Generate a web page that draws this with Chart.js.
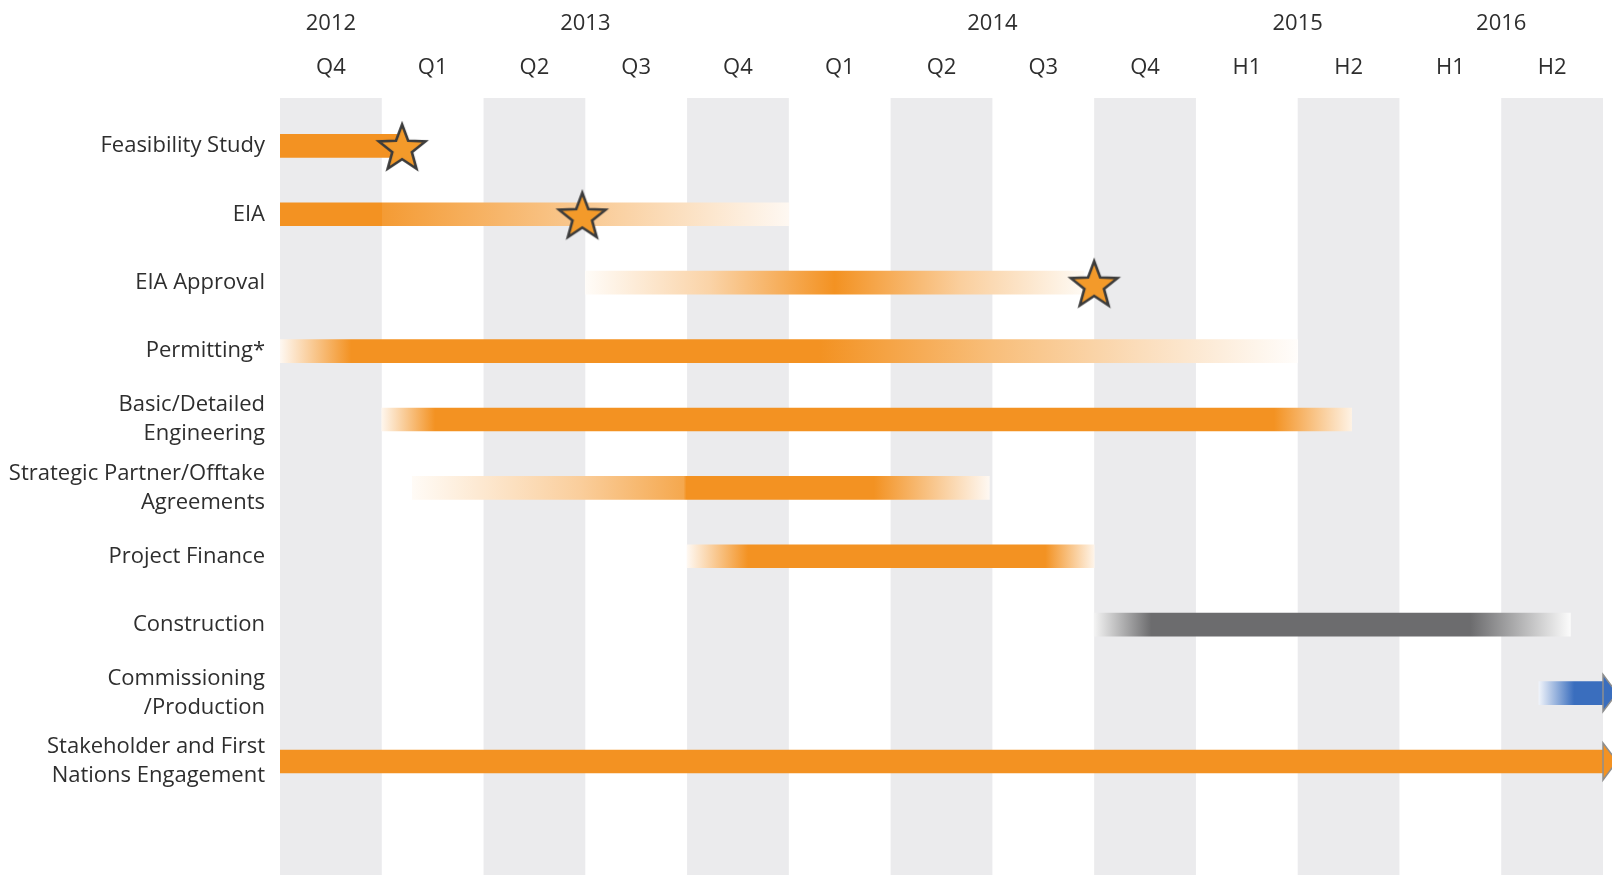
<!DOCTYPE html>
<html>
<head>
<meta charset="utf-8">
<script src="https://cdn.jsdelivr.net/npm/chart.js@4.4.1/dist/chart.umd.min.js"></script>
<style>
  html, body { margin: 0; padding: 0; background: #fff; }
  canvas { display: block; }
</style>
</head>
<body>
<canvas id="myChart" width="1612" height="875"></canvas>
<script>
// rows of the schedule (top to bottom)
const rowLabels = [
  'Feasibility Study',
  'EIA',
  'EIA Approval',
  'Permitting*',
  ['Basic/Detailed', 'Engineering'],
  ['Strategic Partner/Offtake', 'Agreements'],
  'Project Finance',
  'Construction',
  ['Commissioning', '/Production'],
  ['Stakeholder and First', 'Nations Engagement']
];

// bar start / end, in periods from the start of 2012 Q4
const barStart = [0, 0, 3, 0, 1, 1.3, 4, 8, 12.37, 0];
const barEnd   = [1.15, 5, 7.9, 10, 10.53, 6.97, 8, 12.68, 13, 13];

// milestones (stars)
const milestoneRow = [0, 1, 2];
const milestoneAt  = [1.2, 2.97, 8.0];

// top axis labels
const periodLabels = ['Q4', 'Q1', 'Q2', 'Q3', 'Q4', 'Q1', 'Q2', 'Q3', 'Q4', 'H1', 'H2', 'H1', 'H2'];
const yearLabels = ['2012', '2013', '2014', '2015', '2016'];
const yearAt = [0.5, 3, 7, 10, 12];

// styling
const ORANGE = [243, 146, 34];
const GRAY = [108, 108, 110];
const BLUE = [58, 110, 190];
const rowColors = [ORANGE, ORANGE, ORANGE, ORANGE, ORANGE, ORANGE, ORANGE, GRAY, BLUE, ORANGE];
// gradient stops: [offset along bar, colour strength (0 = white, 1 = full)]
const fades = [
  [[0, 1], [1, 1]],
  [[0, 1], [0.2, 1], [0.2, 0.92], [1, 0.06]],
  [[0, 0.03], [0.25, 0.4], [0.5, 1], [0.75, 0.45], [1, 0.05]],
  [[0, 0.06], [0.07, 1], [0.53, 1], [0.7, 0.6], [0.85, 0.3], [1, 0.02]],
  [[0, 0.08], [0.055, 1], [0.92, 1], [1, 0.12]],
  [[0, 0.04], [0.29, 0.45], [0.47, 0.8], [0.475, 1], [0.8, 1], [1, 0.06]],
  [[0, 0.06], [0.15, 1], [0.88, 1], [1, 0.1]],
  [[0, 0.08], [0.12, 1], [0.79, 1], [1, 0.03]],
  [[0, 0.08], [0.55, 1], [1, 1]],
  [[0, 1], [1, 1]]
];
const arrowRows = [8, 9];

function mix(rgb, t) {
  const c = rgb.map(v => Math.round(255 + (v - 255) * t));
  return 'rgb(' + c.join(',') + ')';
}

// star marker image
const starImg = document.createElement('canvas');
starImg.width = 60;
starImg.height = 62;
(function () {
  const s = starImg.getContext('2d');
  const cx = 30, cy = 34, R = 24.5, r = R * 0.42;
  s.beginPath();
  for (let k = 0; k < 10; k++) {
    const rad = k % 2 === 0 ? R : r;
    const a = -Math.PI / 2 + k * Math.PI / 5;
    s.lineTo(cx + rad * Math.cos(a), cy + rad * Math.sin(a));
  }
  s.closePath();
  s.fillStyle = '#f39a2a';
  s.fill();
  s.lineJoin = 'miter';
  s.lineWidth = 2.6;
  s.strokeStyle = '#3b3b3b';
  s.stroke();
})();

const stripes = {
  id: 'stripes',
  beforeDatasetsDraw(chart) {
    const { ctx, chartArea, scales } = chart;
    ctx.save();
    ctx.fillStyle = '#ebebed';
    for (let c = 0; c < periodLabels.length; c += 2) {
      const x0 = scales.x.getPixelForValue(c);
      const x1 = scales.x.getPixelForValue(c + 1);
      ctx.fillRect(x0, chartArea.top, x1 - x0, chartArea.bottom - chartArea.top);
    }
    ctx.restore();
  }
};

const arrows = {
  id: 'arrows',
  afterDatasetsDraw(chart) {
    const ctx = chart.ctx;
    const meta = chart.getDatasetMeta(1);
    ctx.save();
    arrowRows.forEach(i => {
      const el = meta.data[i];
      ctx.beginPath();
      ctx.moveTo(el.x, el.y - 18.5);
      ctx.lineTo(el.x + 14, el.y);
      ctx.lineTo(el.x, el.y + 18.5);
      ctx.closePath();
      ctx.fillStyle = mix(rowColors[i], 1);
      ctx.fill();
      ctx.lineWidth = 1.5;
      ctx.strokeStyle = '#8e8e8e';
      ctx.stroke();
    });
    ctx.restore();
  }
};

function noPad(s) {
  s.paddingLeft = 0;
  s.paddingRight = 0;
  s.paddingTop = 0;
  s.paddingBottom = 0;
}

Chart.defaults.font.family = '"Open Sans"';
Chart.defaults.color = '#2e2e2e';

const ctx = document.getElementById('myChart').getContext('2d');

new Chart(ctx, {
  data: {
    datasets: [
      {
        type: 'scatter',
        order: 0,
        data: milestoneRow.map((r, i) => ({ x: milestoneAt[i], y: r })),
        pointStyle: starImg,
        pointRadius: 25,
        clip: false
      },
      {
        type: 'bar',
        order: 1,
        indexAxis: 'y',
        data: rowLabels.map((_, i) => ({ y: i, x: [barStart[i], barEnd[i]] })),
        barThickness: 23,
        borderWidth: 0,
        backgroundColor: (c) => {
          const chart = c.chart;
          if (!chart.chartArea || c.dataIndex === undefined) return mix(ORANGE, 1);
          const i = c.dataIndex;
          const x = chart.scales.x;
          const g = chart.ctx.createLinearGradient(x.getPixelForValue(barStart[i]), 0, x.getPixelForValue(barEnd[i]), 0);
          fades[i].forEach(([o, t]) => g.addColorStop(o, mix(rowColors[i], t)));
          return g;
        }
      }
    ]
  },
  options: {
    responsive: false,
    animation: false,
    devicePixelRatio: 1,
    layout: { autoPadding: false, padding: { right: 9 } },
    plugins: { legend: { display: false }, tooltip: { enabled: false } },
    scales: {
      x: {
        type: 'linear',
        position: 'top',
        min: 0,
        max: 13,
        offset: false,
        weight: 0,
        grid: { display: false, drawTicks: false },
        border: { display: false },
        afterBuildTicks: (s) => { s.ticks = periodLabels.map((_, i) => ({ value: i + 0.5 })); },
        afterFit: (s) => { s.height = 53; noPad(s); },
        ticks: {
          autoSkip: false,
          maxRotation: 0,
          padding: 17,
          font: { size: 22, lineHeight: 1.2 },
          callback: (v, i) => periodLabels[i]
        }
      },
      x2: {
        type: 'linear',
        position: 'top',
        min: 0,
        max: 13,
        offset: false,
        weight: 1,
        grid: { display: false, drawTicks: false },
        border: { display: false },
        afterBuildTicks: (s) => { s.ticks = yearAt.map(v => ({ value: v })); },
        afterFit: (s) => { s.height = 45; noPad(s); },
        ticks: {
          autoSkip: false,
          maxRotation: 0,
          padding: 8,
          font: { size: 22, lineHeight: 1.2 },
          callback: (v, i) => yearLabels[i]
        }
      },
      y: {
        type: 'linear',
        reverse: true,
        min: -0.7,
        max: 10.66,
        offset: false,
        grid: { display: false, drawTicks: false },
        border: { display: false },
        afterBuildTicks: (s) => { s.ticks = rowLabels.map((_, i) => ({ value: i })); },
        afterFit: (s) => { s.width = 280; noPad(s); },
        ticks: {
          autoSkip: false,
          padding: 15,
          font: { size: 22, lineHeight: 1.31 },
          callback: (v, i) => rowLabels[i]
        }
      }
    }
  },
  plugins: [stripes, arrows]
});
</script>
</body>
</html>
